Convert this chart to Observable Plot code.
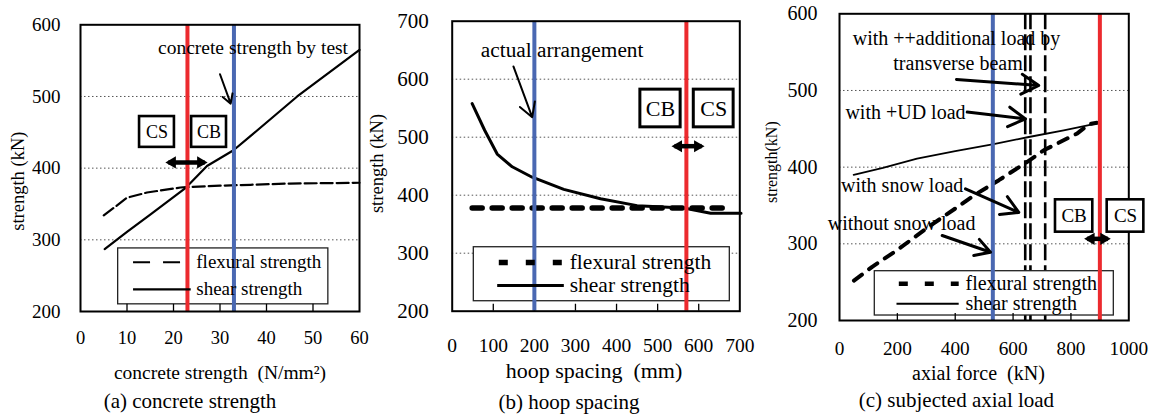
<!DOCTYPE html>
<html><head><meta charset="utf-8">
<script src="https://cdn.jsdelivr.net/npm/d3@7"></script>
<script src="https://cdn.jsdelivr.net/npm/@observablehq/plot@0.6"></script>
<style>
body{margin:0;background:#fff}
#wrap{position:relative;width:1156px;height:416px;overflow:hidden;background:#fff}
#wrap svg{position:absolute;top:0}
#wrap svg, #wrap svg text{font-family:"Liberation Serif","Times New Roman",serif !important;}
</style></head><body><div id="wrap"></div>
<script>
const RED = "#ec2a2e", BLUE = "#4a68b2", GRID = "#555";
const FONT = "Liberation Serif";

// ---------- (a) concrete strength ----------
const aShearX = [5.2, 10, 15, 22.7, 27.2, 32.9, 36.6, 46.6, 60];
const aShear  = [287, 311, 335, 373, 403, 425, 445, 500, 565];
const aFlexX  = [5, 10, 14.3, 21.5, 22.7, 30, 36.6, 45, 60];
const aFlex   = [334, 358.7, 366, 373, 373.5, 375.5, 376.8, 378.5, 379.6];
const aTicksX = [0, 10, 20, 30, 40, 50, 60];
const aInner  = [10, 20, 30, 40, 50];
const aTicksY = [200, 300, 400, 500, 600];
const aGrid   = [300, 400, 500];
const aRed = [23], aBlue = [33];

// ---------- (b) hoop spacing ----------
const bShearX = [48.6, 79, 109.5, 146, 194.7, 271.6, 361, 450, 563.7, 629, 703];
const bShear  = [558, 512, 471, 449, 431, 410, 394, 382, 378, 369, 369];
const bFlexX  = [48.6, 672];
const bFlex   = [378, 378];
const bTicksX = [0, 100, 200, 300, 400, 500, 600, 700];
const bInner  = [100, 200, 300, 400, 500, 600];
const bTicksY = [200, 300, 400, 500, 600, 700];
const bGrid   = [300, 400, 500, 600];
const bRed = [570], bBlue = [200];

// ---------- (c) subjected axial load ----------
const cShearX = [49, 150, 268, 400, 533, 650, 775, 891];
const cShear  = [390, 399, 411, 421, 430, 439, 448, 457];
const cFlexX  = [50, 113, 200, 315, 400, 464, 551, 649, 706, 822, 862, 890];
const cFlex   = [252, 270, 292, 324, 346, 363, 383, 407, 422, 444, 456, 458];
const cLoads  = [642, 660, 711];
const cTicksX = [0, 200, 400, 600, 800, 1000];
const cInner  = [200, 400, 600, 800];
const cTicksY = [200, 300, 400, 500, 600];
const cGrid   = [300, 400, 500];
const cRed = [900], cBlue = [530];

const wrap = document.getElementById("wrap");
const baseStyle = {overflow: "visible", background: "transparent", color: "black"};
const fmt = d => String(d);

function T(str, opts) {
  return Plot.text([str], {text: d => d, fontFamily: FONT, fill: "black", ...opts});
}
function box(x1, x2, y1, y2, sw) {
  return Plot.rect([0], {x1, x2, y1, y2, fill: "white", stroke: "black", strokeWidth: sw});
}
function dbl(x1, x2, y, sw, r) {
  return [
    Plot.link([0], {x1, x2, y1: y, y2: y, stroke: "black", strokeWidth: sw}),
    Plot.dot([0], {x: x1, y, symbol: "triangle", rotate: -90, r, fill: "black", stroke: "none", dx: 4}),
    Plot.dot([0], {x: x2, y, symbol: "triangle", rotate: 90, r, fill: "black", stroke: "none", dx: -4})
  ];
}

// Panel (a)
const pa = Plot.plot({
  width: 370, height: 416,
  marginLeft: 80, marginRight: 11, marginTop: 24.3, marginBottom: 105,
  x: {domain: [0, 60]}, y: {domain: [200, 600]},
  style: baseStyle,
  marks: [
    Plot.gridY(aGrid, {stroke: GRID, strokeOpacity: 1, strokeWidth: 1, strokeDasharray: "1.5,2.5"}),
    Plot.rect([0], {x1: 8.1, x2: 53.3, y1: 210, y2: 288, fill: "white", stroke: "#222", strokeWidth: 1.3}),
    Plot.ruleX(aInner, {y1: 200, y2: 210, stroke: "black", strokeWidth: 1.3}),
    Plot.line(aFlex, {x: aFlexX, y: d => d, stroke: "black", strokeWidth: 2.2, strokeDasharray: "12,4"}),
    Plot.line(aShear, {x: aShearX, y: d => d, stroke: "black", strokeWidth: 2.2}),
    Plot.ruleX(aRed, {stroke: RED, strokeWidth: 4}),
    Plot.ruleX(aBlue, {stroke: BLUE, strokeWidth: 4}),
    Plot.frame({stroke: "black", strokeWidth: 2}),
    box(12.7, 20.2, 429, 472, 2.6), box(23.9, 31.4, 429, 472, 2.6),
    T("CS", {x: 16.45, y: 450.5, fontSize: 18}),
    T("CB", {x: 27.65, y: 450.5, fontSize: 18}),
    ...dbl(18.9, 26.7, 408, 4.5, 4.5),
    T("concrete strength by test", {x: 37.1, y: 568, fontSize: 19.5}),
    Plot.arrow([0], {x1: 30, y1: 531, x2: 32.3, y2: 490, stroke: "black", strokeWidth: 2, headLength: 10}),
    Plot.link([0], {x1: 11.3, x2: 21.9, y1: 268.7, y2: 268.7, stroke: "black", strokeWidth: 2.2, strokeDasharray: "17,13"}),
    Plot.link([0], {x1: 11.3, x2: 23.7, y1: 231, y2: 231, stroke: "black", strokeWidth: 2.2}),
    T("flexural strength", {x: 24.9, y: 268.7, textAnchor: "start", fontSize: 19}),
    T("shear strength", {x: 24.9, y: 231, textAnchor: "start", fontSize: 19}),
    Plot.axisX({ticks: aTicksX, tickFormat: fmt, tickSize: 0, tickPadding: 27, lineAnchor: "middle", fontSize: 18.5, label: null}),
    Plot.axisY({ticks: aTicksY, tickFormat: fmt, tickSize: 0, tickPadding: 20, fontSize: 19, label: null}),
    T("strength (kN)", {frameAnchor: "left", rotate: -90, textAnchor: "middle", lineAnchor: "middle", dx: -62.5, dy: 13, fontSize: 18.5}),
    T("concrete strength  (N/mm²)", {frameAnchor: "bottom", textAnchor: "middle", lineAnchor: "middle", dy: 61, fontSize: 19.5}),
    T("(a) concrete strength", {frameAnchor: "bottom", textAnchor: "middle", lineAnchor: "middle", dx: -30, dy: 90, fontSize: 21})
  ]
});
pa.style.left = "0px"; wrap.appendChild(pa);

// Panel (b)
const pb = Plot.plot({
  width: 388, height: 416,
  marginLeft: 83.7, marginRight: 16.7, marginTop: 20.7, marginBottom: 105.3,
  x: {domain: [0, 700]}, y: {domain: [200, 700]},
  style: baseStyle,
  marks: [
    Plot.gridY(bGrid, {stroke: GRID, strokeOpacity: 1, strokeWidth: 1, strokeDasharray: "1.5,2.5"}),
    Plot.rect([0], {x1: 52.6, x2: 675.7, y1: 217.2, y2: 310.3, fill: "white", stroke: "#222", strokeWidth: 1.3}),
    Plot.ruleX(bInner, {y1: 200, y2: 212, stroke: "black", strokeWidth: 1.3}),
    Plot.line(bFlex, {x: bFlexX, y: d => d, stroke: "black", strokeWidth: 5.5, strokeDasharray: "10,10"}),
    Plot.line(bShear, {x: bShearX, y: d => d, stroke: "black", strokeWidth: 3}),
    Plot.ruleX(bRed, {stroke: RED, strokeWidth: 4}),
    Plot.ruleX(bBlue, {stroke: BLUE, strokeWidth: 4}),
    Plot.frame({stroke: "black", strokeWidth: 2}),
    box(458, 556, 517, 582, 3), box(588, 685, 517, 582, 3),
    T("CB", {x: 507, y: 549.5, fontSize: 22}),
    T("CS", {x: 636.5, y: 549.5, fontSize: 22}),
    ...dbl(541, 607, 484.5, 4.5, 4.5),
    T("actual arrangement", {x: 267.5, y: 649.5, fontSize: 21.3}),
    Plot.arrow([0], {x1: 149, y1: 622, x2: 194.7, y2: 534.5, stroke: "black", strokeWidth: 2, headLength: 12}),
    Plot.link([0], {x1: 113.4, x2: 267.7, y1: 284, y2: 284, stroke: "black", strokeWidth: 5.5, strokeDasharray: "9,18"}),
    Plot.link([0], {x1: 109.5, x2: 271.7, y1: 244.3, y2: 244.3, stroke: "black", strokeWidth: 3}),
    T("flexural strength", {x: 286, y: 284, textAnchor: "start", fontSize: 21.5}),
    T("shear strength", {x: 286, y: 244.3, textAnchor: "start", fontSize: 21.5}),
    Plot.axisX({ticks: bTicksX, tickFormat: fmt, tickSize: 0, tickPadding: 34.3, lineAnchor: "middle", fontSize: 19.5, label: null}),
    Plot.axisY({ticks: bTicksY, tickFormat: fmt, tickSize: 0, tickPadding: 23.4, fontSize: 21, label: null}),
    T("strength (kN)", {frameAnchor: "left", rotate: -90, textAnchor: "middle", lineAnchor: "middle", dx: -75, dy: -2.7, fontSize: 18.5}),
    T("hoop spacing  (mm)", {frameAnchor: "bottom", textAnchor: "middle", lineAnchor: "middle", dx: -2, dy: 59.3, fontSize: 22}),
    T("(b) hoop spacing", {frameAnchor: "bottom", textAnchor: "middle", lineAnchor: "middle", dx: -27, dy: 91, fontSize: 21})
  ]
});
pb.style.left = "368px"; wrap.appendChild(pb);

// Panel (c)
const pc = Plot.plot({
  width: 398, height: 416,
  marginLeft: 81, marginRight: 27.7, marginTop: 13.3, marginBottom: 96,
  x: {domain: [0, 1000]}, y: {domain: [200, 600]},
  style: baseStyle,
  marks: [
    Plot.gridY(cGrid, {stroke: GRID, strokeOpacity: 1, strokeWidth: 1, strokeDasharray: "1.5,2.5"}),
    Plot.ruleX(cLoads, {stroke: "black", strokeWidth: 2.6, strokeDasharray: "16,5"}),
    Plot.rect([0], {x1: 122, x2: 948.2, y1: 206.5, y2: 264.3, fill: "white", stroke: "#222", strokeWidth: 1.3}),
    Plot.ruleX(cInner, {y1: 200, y2: 209, stroke: "black", strokeWidth: 1.3}),
    Plot.line(cFlex, {x: cFlexX, y: d => d, stroke: "black", strokeWidth: 4, strokeDasharray: "10,9"}),
    Plot.line(cShear, {x: cShearX, y: d => d, stroke: "black", strokeWidth: 1.8}),
    Plot.ruleX(cRed, {stroke: RED, strokeWidth: 4}),
    Plot.ruleX(cBlue, {stroke: BLUE, strokeWidth: 4}),
    Plot.frame({stroke: "black", strokeWidth: 2}),
    box(746.6, 875.5, 315.2, 357.4, 2.6), box(925.3, 1052, 315.2, 357.4, 2.6),
    T("CB", {x: 811, y: 336.3, fontSize: 19}),
    T("CS", {x: 988.7, y: 336.3, fontSize: 19}),
    ...dbl(856, 927.4, 306.5, 4.5, 4.5),
    T("with ++additional load by", {x: 404.4, y: 567.4, fontSize: 20}),
    T("transverse beam", {x: 409.6, y: 534.8, fontSize: 20}),
    T("with +UD load", {x: 228, y: 471.8, fontSize: 20}),
    T("with snow load", {x: 216.6, y: 376, fontSize: 20}),
    T("without snow load", {x: 214.7, y: 326.1, fontSize: 20}),
    Plot.arrow([0], {x1: 404.4, y1: 514.3, x2: 689, y2: 506.5, stroke: "black", strokeWidth: 3, headLength: 10}),
    Plot.arrow([0], {x1: 441.4, y1: 471.8, x2: 643, y2: 463, stroke: "black", strokeWidth: 3, headLength: 10}),
    Plot.arrow([0], {x1: 435.5, y1: 371.8, x2: 619.8, y2: 341, stroke: "black", strokeWidth: 3, headLength: 10}),
    Plot.arrow([0], {x1: 355, y1: 310.9, x2: 522, y2: 289, stroke: "black", strokeWidth: 3, headLength: 10}),
    Plot.link([0], {x1: 205, x2: 412, y1: 248, y2: 248, stroke: "black", strokeWidth: 4.5, strokeDasharray: "9,17"}),
    Plot.link([0], {x1: 197, x2: 412, y1: 222, y2: 222, stroke: "black", strokeWidth: 2}),
    T("flexural strength", {x: 435.5, y: 248, textAnchor: "start", fontSize: 20}),
    T("shear strength", {x: 435.5, y: 222, textAnchor: "start", fontSize: 20}),
    Plot.axisX({ticks: cTicksX, tickFormat: fmt, tickSize: 0, tickPadding: 28.3, lineAnchor: "middle", fontSize: 19.3, label: null}),
    Plot.axisY({ticks: cTicksY, tickFormat: fmt, tickSize: 0, tickPadding: 22, fontSize: 20, label: null}),
    T("strength(kN)", {frameAnchor: "left", rotate: -90, textAnchor: "middle", lineAnchor: "middle", dx: -67.3, dy: -5, fontSize: 16}),
    T("axial force  (kN)", {frameAnchor: "bottom", textAnchor: "middle", lineAnchor: "middle", dx: -5.7, dy: 53.3, fontSize: 20}),
    T("(c) subjected axial load", {frameAnchor: "bottom", textAnchor: "middle", lineAnchor: "middle", dx: -27.7, dy: 80, fontSize: 21})
  ]
});
pc.style.left = "758px"; wrap.appendChild(pc);
</script></body></html>
